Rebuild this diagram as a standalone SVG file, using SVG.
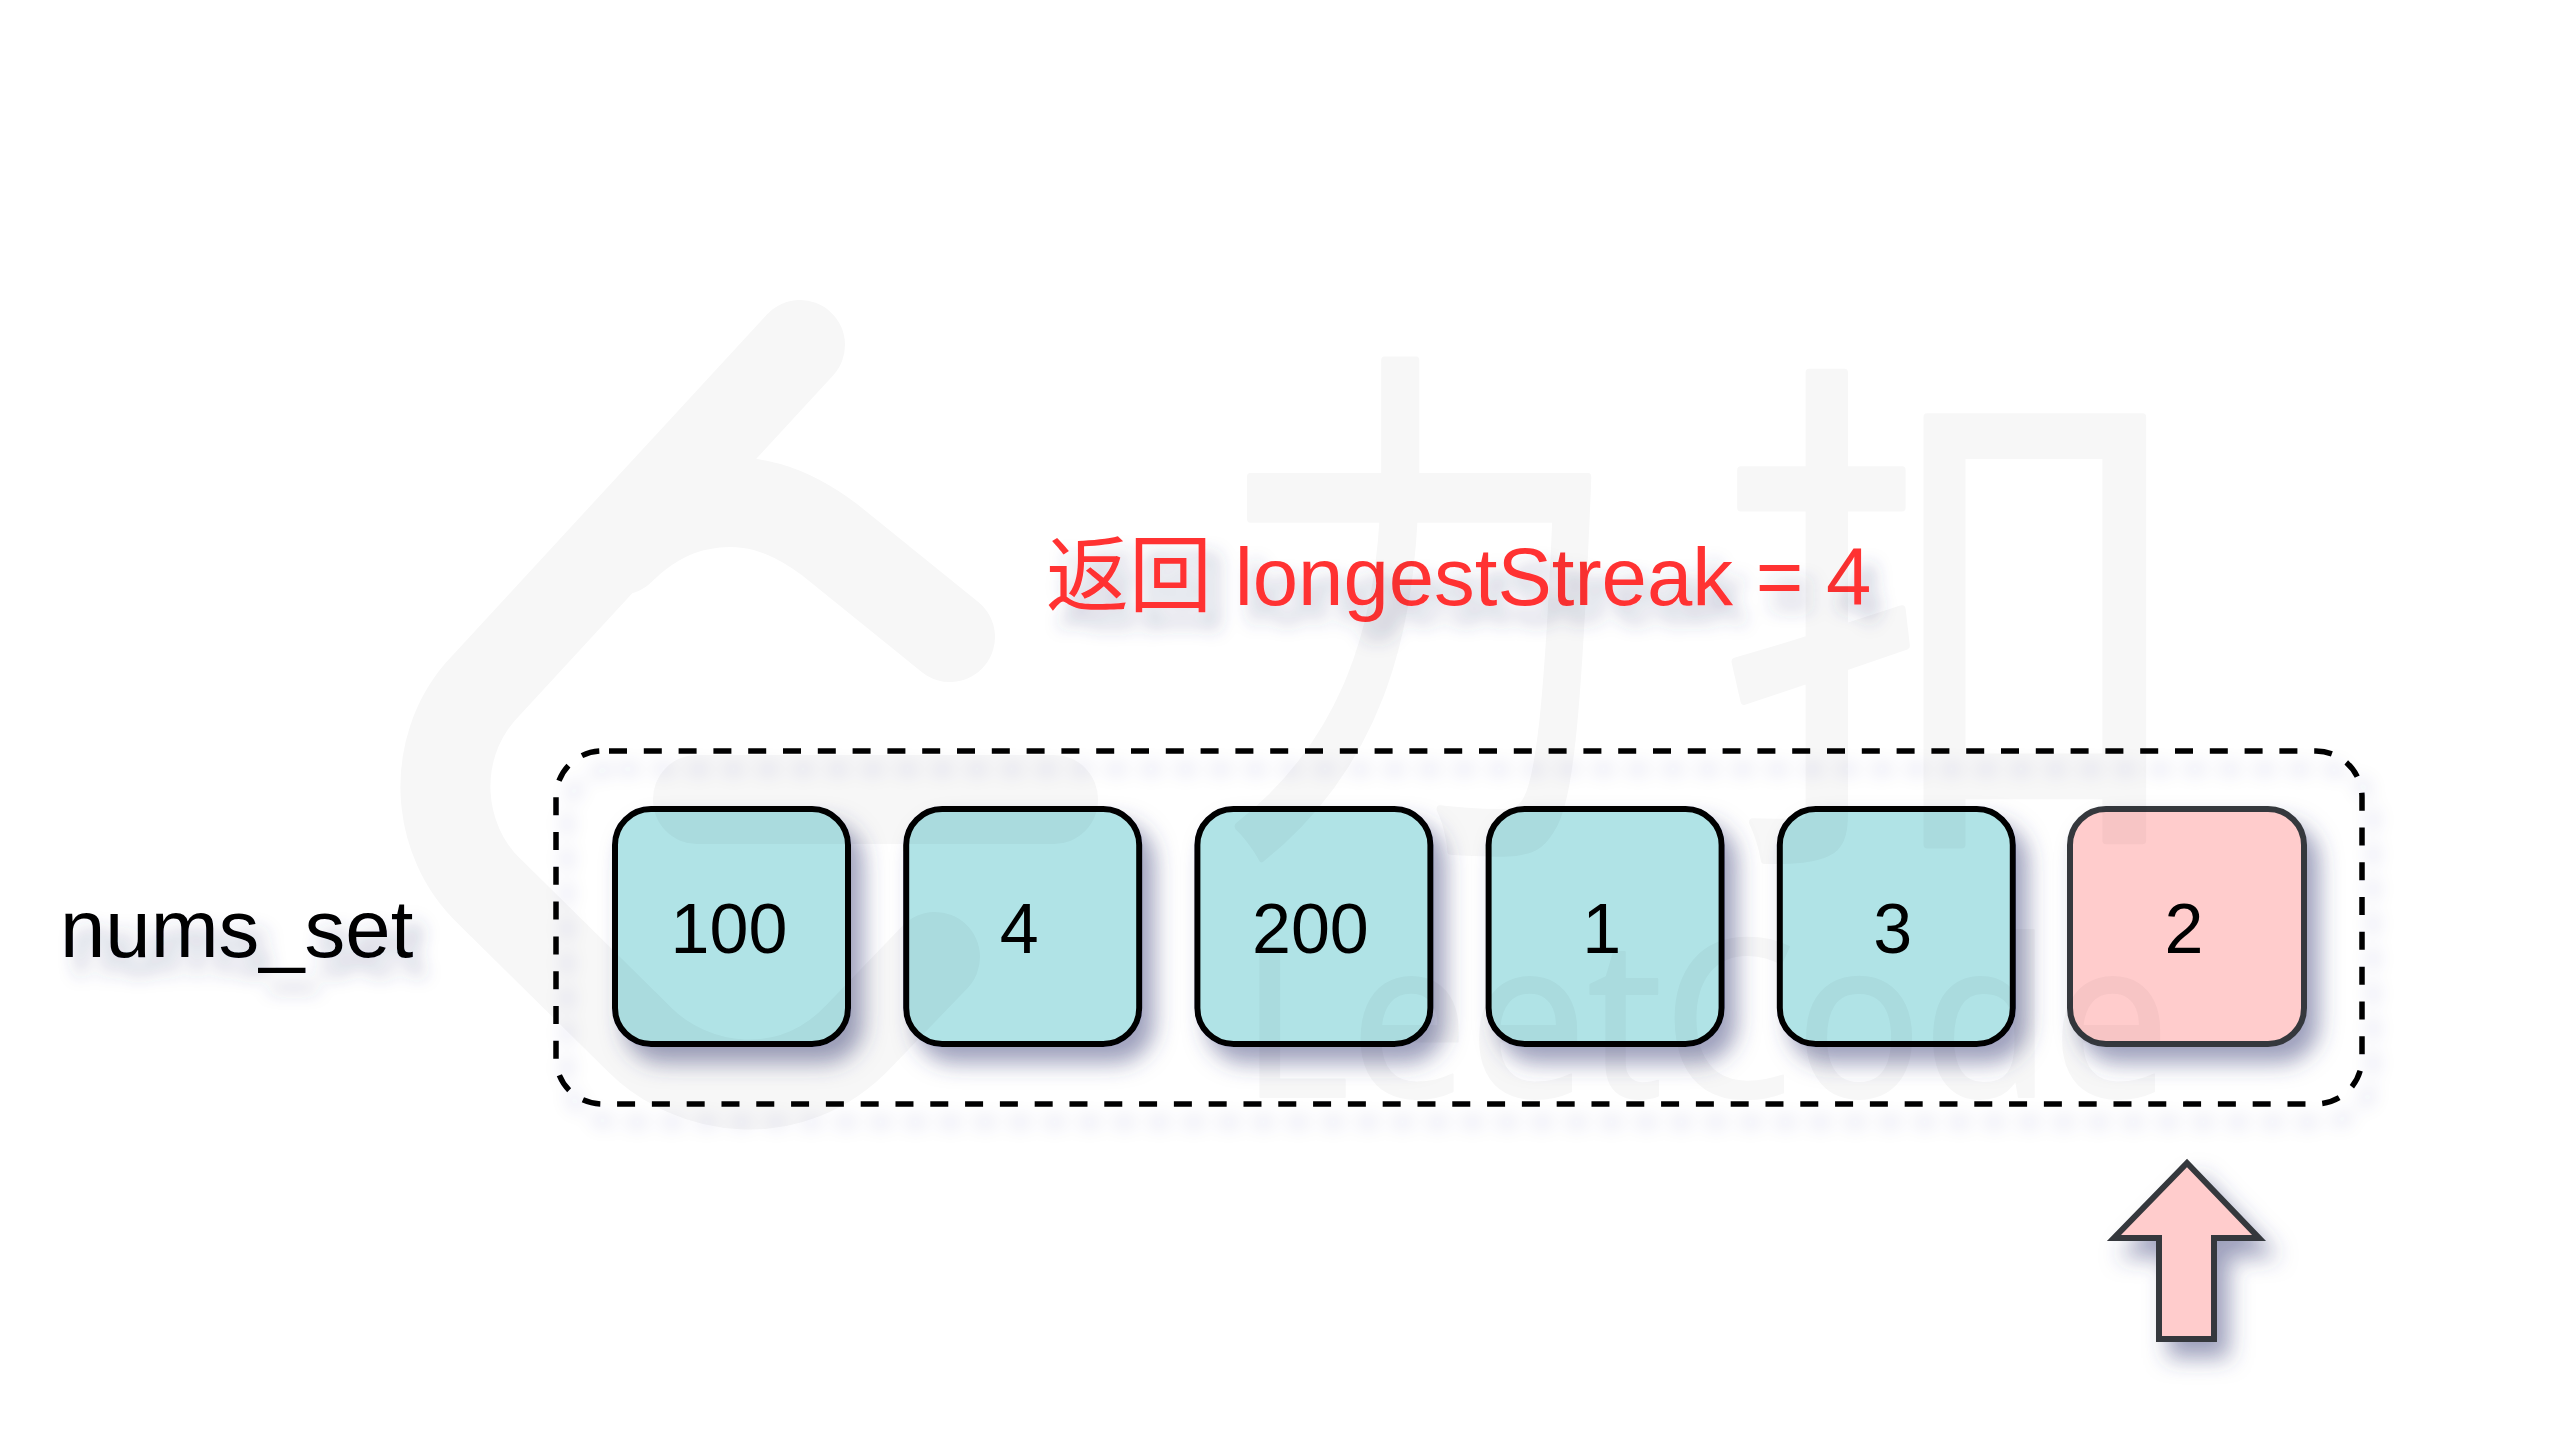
<svg xmlns="http://www.w3.org/2000/svg" width="2560" height="1440" viewBox="0 0 2560 1440">
<defs>
<filter id="sh" x="-30%" y="-30%" width="170%" height="170%"><feDropShadow dx="12" dy="16" stdDeviation="11" flood-color="#3a3f7a" flood-opacity="0.5"/></filter>
<filter id="shT" x="-20%" y="-50%" width="140%" height="220%"><feDropShadow dx="12" dy="17" stdDeviation="9" flood-color="#3a3f7a" flood-opacity="0.35"/></filter>
<filter id="shD" x="-5%" y="-10%" width="110%" height="125%"><feDropShadow dx="11" dy="18" stdDeviation="9" flood-color="#3a3f7a" flood-opacity="0.22"/></filter>
</defs>
<style>
text{font-family:"Liberation Sans","Noto Sans CJK SC",sans-serif}
.v{font-size:70px;fill:#000;text-anchor:middle}
.b{stroke-width:6;stroke:#000;fill:#b0e3e6}
.p{stroke-width:6;stroke:#36393d;fill:#ffcccc}
.wm{fill:none;stroke:#000;stroke-width:90;stroke-linecap:round;stroke-linejoin:round}
.wt{fill:#000;stroke:#000;stroke-width:8;stroke-linejoin:round}
</style>
<rect width="2560" height="1440" fill="#fff"/>
<g id="title" filter="url(#shT)"><text x="1046" y="605" font-size="81.5" fill="#ff3333"><tspan font-size="83">返回</tspan> longestStreak = 4</text></g>
<g id="label" filter="url(#shT)"><text x="60" y="957" font-size="81.5" fill="#000">nums_set</text></g>
<g id="container" filter="url(#shD)"><rect x="556" y="751" width="1806" height="353" rx="46" fill="none" stroke="#000" stroke-width="5.5" stroke-dasharray="18 16.8" stroke-dashoffset="-7"/></g>
<g id="node-100" filter="url(#sh)"><rect class="b" x="615" y="809" width="233" height="235" rx="36"/><text class="v" x="729" y="953">100</text></g>
<g id="node-4" filter="url(#sh)"><rect class="b" x="906.2" y="809" width="233" height="235" rx="36"/><text class="v" x="1019.2" y="953">4</text></g>
<g id="node-200" filter="url(#sh)"><rect class="b" x="1197.4" y="809" width="233" height="235" rx="36"/><text class="v" x="1310.4" y="953">200</text></g>
<g id="node-1" filter="url(#sh)"><rect class="b" x="1488.6" y="809" width="233" height="235" rx="36"/><text class="v" x="1601.6" y="953">1</text></g>
<g id="node-3" filter="url(#sh)"><rect class="b" x="1779.8" y="809" width="233" height="235" rx="36"/><text class="v" x="1892.8" y="953">3</text></g>
<g id="node-2" filter="url(#sh)"><rect class="p" x="2070" y="809" width="234" height="235" rx="36"/><text class="v" x="2184" y="953">2</text></g>
<g id="connectors" filter="url(#sh)"><polygon class="p" points="2187,1163 2259,1238 2214,1238 2214,1339 2159,1339 2159,1238 2114,1238"/></g>
<g id="watermark" opacity="0.032">
<path class="wm" d="M800 345 L480 692 C430 750 435 840 490 892 L640 1040 C690 1090 790 1110 860 1035 L935 957"/>
<path class="wm" d="M950 637 L830 540 C790 510 750 495 700 505 C670 510 640 530 620 550"/>
<rect x="653" y="755" width="445" height="89" rx="44" fill="#000"/>
<text class="wt" transform="translate(1216 813) scale(.76 1)" font-size="540" style="font-family:'Noto Sans CJK SC',sans-serif">力</text>
<text class="wt" transform="translate(1720 818) scale(.89 1)" font-size="530" style="font-family:'Noto Sans CJK SC',sans-serif">扣</text>
<text class="wt" x="1240" y="1097" font-size="220" textLength="930" lengthAdjust="spacingAndGlyphs" style="font-family:'Noto Sans',sans-serif;stroke-width:2">LeetCode</text>
</g>
</svg>
